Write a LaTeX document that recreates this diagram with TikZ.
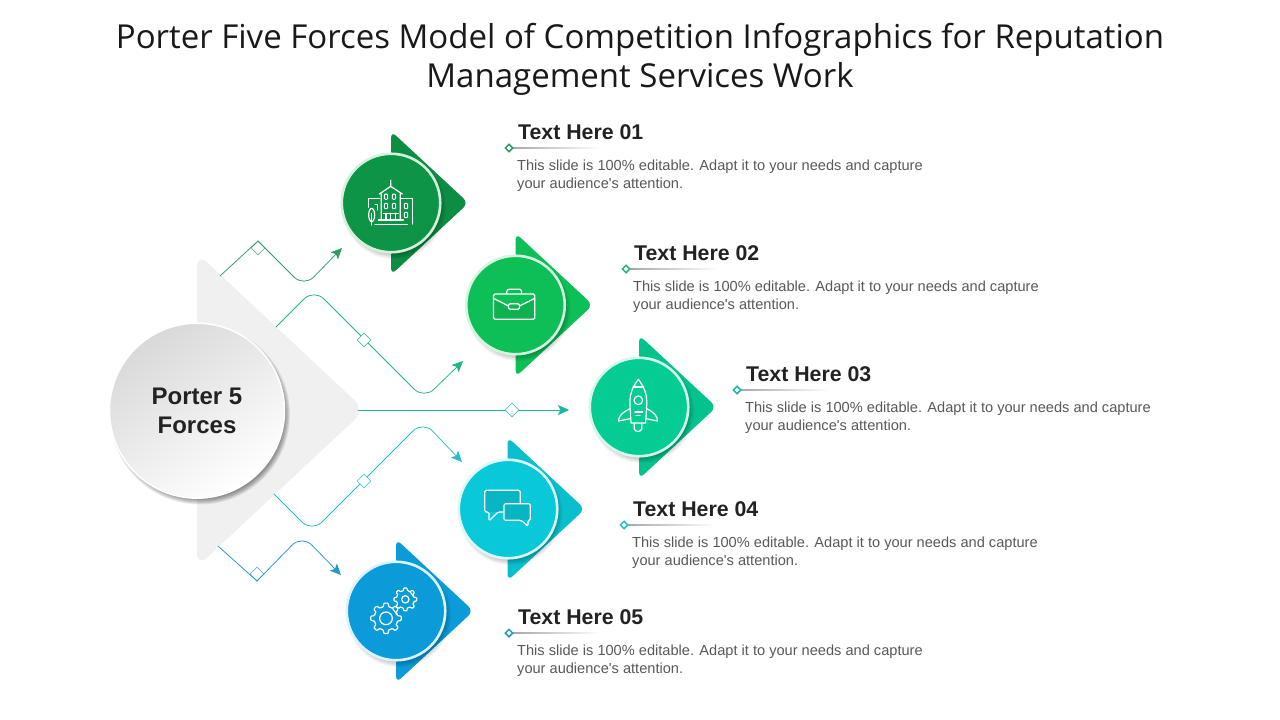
\documentclass[tikz,border=0pt]{standalone}
\usepackage{fontspec}
\setmainfont{Liberation Sans}
\newfontfamily\bodyfont{Liberation Sans}
\newfontfamily\titlefont{Open Sans}
\usetikzlibrary{arrows.meta,shapes.geometric,calc}
\definecolor{cA}{HTML}{0E9447}\definecolor{cB}{HTML}{0DBF56}\definecolor{cC}{HTML}{04CC93}\definecolor{cD}{HTML}{09C9D8}\definecolor{cE}{HTML}{0A9BD8}
\definecolor{rA}{HTML}{D5F0DC}\definecolor{rB}{HTML}{D5F5E0}\definecolor{rC}{HTML}{D5F7EC}\definecolor{rD}{HTML}{DDF8FA}\definecolor{rE}{HTML}{DDF3FB}
\definecolor{lA}{HTML}{2E9A68}\definecolor{lB}{HTML}{22B57C}\definecolor{lC}{HTML}{17B8A0}\definecolor{lD}{HTML}{25BFC4}\definecolor{lE}{HTML}{2198C0}
\definecolor{body}{HTML}{595959}\definecolor{ink}{HTML}{222222}
\tikzset{
 x=1pt,y=-1pt,
 disc/.style={circle,inner sep=0pt,outer sep=0pt,minimum size=98.5pt,line width=2.6pt},
 conn/.style={line width=.75pt,rounded corners=14pt,-{Stealth[length=11pt,width=10pt,inset=2.5pt]}},
 waydia/.style={diamond,draw=#1,fill=white,line width=.7pt,inner sep=0pt,minimum size=14pt},
 mark dia/.style={diamond,draw=#1,fill=white,line width=1.5pt,inner sep=0pt,minimum size=8pt},
 headtxt/.style={anchor=west,inner sep=0pt,text=ink,font=\bfseries\fontsize{21.3}{24}\selectfont},
 bodytxt/.style={anchor=north west,inner sep=0pt,align=left,text=body,font=\bodyfont\fontsize{14.6}{18}\selectfont},
 ic/.style={draw=white,line width=1.2pt,line cap=round,line join=round},
 icthin/.style={draw=white,line width=1pt,line cap=round,line join=round},
}
\newcommand{\softshadow}[5]{% x y r steps opacity
 \foreach \k in {0,...,#4}{\fill[black,opacity=#5] (#1,#2) circle[radius=#3-\k+2];}}
\newcommand{\triback}[3]{% cx cy colour
 \fill[#3,rounded corners=7pt] (#1,#2) -- (#1,#2-72) -- (#1+77.5,#2) -- (#1,#2+72) -- cycle;}
\newcommand{\gearshape}[3]{% x y r
 \draw[ic,rounded corners=.7pt] \foreach \a in {0,45,...,315}{
   ($(#1,#2)+(\a-13:#3)$) -- ($(#1,#2)+(\a-8:#3*1.28)$) -- ($(#1,#2)+(\a+8:#3*1.28)$) -- ($(#1,#2)+(\a+13:#3)$) -- ($(#1,#2)+(\a+32:#3)$)
 } -- cycle;}
\begin{document}
\begin{tikzpicture}
\useasboundingbox (0,0) rectangle (1280,720);
\fill[white] (0,0) rectangle (1280,720);
% title
\node[align=center,inner sep=0pt,text=black!90,font=\titlefont\fontsize{33}{39}\selectfont] (title) at (640,59) {Porter Five Forces Model of Competition Infographics for Reputation\\Management Services Work};
% main triangle
\fill[black!6,rounded corners=14pt] (197,410) -- (197,253) -- (365,410) -- (197,567) -- cycle;
% back triangles
\triback{391}{203}{cA!95!black}
\triback{515.5}{305}{cB}
\triback{639}{407}{cC!95!black}
\triback{507.5}{509}{cD!95!black}
\triback{396}{611}{cE}
% shadows
\softshadow{394}{207}{50}{6}{.04}
\softshadow{518.5}{309}{50}{6}{.04}
\softshadow{642}{411}{50}{6}{.04}
\softshadow{510.5}{513}{50}{6}{.04}
\softshadow{399}{615}{50}{6}{.04}
\softshadow{200}{414.5}{88}{6}{.08}
% discs
\node[disc,fill=cA,draw=rA] (c1) at (391,203) {};
\node[disc,fill=cB,draw=rB] (c2) at (515.5,305) {};
\node[disc,fill=cC,draw=rC] (c3) at (639,407) {};
\node[disc,fill=cD,draw=rD] (c4) at (508,509) {};
\node[disc,fill=cE,draw=rE] (c5) at (396,611) {};
\node[circle,inner sep=0pt,outer sep=0pt,minimum size=175pt,line width=1.5pt,draw=white,shading=axis,top color=black!15,bottom color=white,shading angle=35,align=center,text=ink,font=\bfseries\fontsize{24}{29}\selectfont] (hub) at (197,410.7) {Porter 5\\Forces};
% connector way points
\coordinate (s1) at (220,276); \coordinate (a1) at (258,241); \coordinate (b1) at (304,287); \coordinate (t1) at (342,248);
\coordinate (s2) at (276,327); \coordinate (a2) at (314,289); \coordinate (b2) at (424,399); \coordinate (t2) at (463,361);
\coordinate (s3) at (358,410); \coordinate (t3) at (569,410);
\coordinate (s4) at (274,494); \coordinate (a4) at (312,532); \coordinate (b4) at (423,421); \coordinate (t4) at (462,462);
\coordinate (s5) at (218,546); \coordinate (a5) at (257,581); \coordinate (b5) at (302,535); \coordinate (t5) at (341,575);
% way diamonds beneath lines' ends
\node[waydia=lA!70] (d1) at (258,248) {};
\node[waydia=lE!70] (d5) at (257,574) {};
\draw[conn,lA] (s1) [sharp corners] -- (a1) [rounded corners=14pt] -- (b1) -- (t1);
\draw[conn,lB] (s2) -- (a2) -- (b2) -- (t2);
\draw[conn,lC] (s3) -- (t3);
\draw[conn,lD] (s4) -- (a4) -- (b4) -- (t4);
\draw[conn,lE] (s5) [sharp corners] -- (a5) [rounded corners=14pt] -- (b5) -- (t5);
\node[waydia=lB!80] (d2) at (364,340) {};
\node[waydia=lC!80] (d3) at (512,410) {};
\node[waydia=lD!80] (d4) at (364,481) {};
% icons ---------------------------------------------------
% building
\begin{scope}[shift={(391,203)},scale=.3333]
 \begin{scope}[shift={(-213,-249)}]
 \draw[ic] (212,181) -- (212,197) (178,222) -- (212,199) -- (247,222) (184,222)--(184,300) (241,222)--(241,300);
 \draw[ic] (145,262) -- (145,235) -- (178,235) (243,235) -- (278,235) -- (278,312);
 \draw[ic] (155,285) ellipse[x radius=9,y radius=20]; \draw[ic] (155,280) -- (155,315);
 \draw[ic] (165,313) -- (262,313) (175,300) -- (250,300) (190,280) -- (235,280) (198,280) -- (198,300) (212,280) -- (212,300) (226,280) -- (226,300);
 \foreach \u/\v in {198/230,222/230,198/258,222/258,258/258,258/285}{\draw[icthin,rounded corners=1pt] (\u-5,\v-8) rectangle (\u+5,\v+8);}
 \draw[icthin] (165,252) -- (172,252) -- (172,270);
 \end{scope}
\end{scope}
% briefcase
\begin{scope}[shift={(515.5,305)},scale=.3333]
 \begin{scope}[shift={(-196,-225)}]
 \fill[black,opacity=.06] (131,205) -- (175,228) -- (208,228) -- (254,205) -- (254,268) -- (131,268) -- cycle;
 \draw[ic,rounded corners=1.5pt] (130,192) rectangle (254,268);
 \draw[ic,rounded corners=2pt] (170,192) -- (170,178) -- (214,178) -- (214,192);
 \draw[ic] (130,205) -- (175,228) (208,228) -- (254,205);
 \draw[ic,rounded corners=2pt] (175,221) rectangle (208,238);
 \end{scope}
\end{scope}
% rocket
\begin{scope}[shift={(639,407)},scale=.3333]
 \begin{scope}[shift={(-567,-530)}]
 \draw[ic] (565,447) .. controls (548,470) and (538,490) .. (540,525) -- (543,578) -- (587,578) -- (590,525) .. controls (592,490) and (582,470) .. (565,447) -- cycle;
 \draw[ic] (549,470) -- (581,470);
 \draw[ic] (565,510) circle[radius=13];
 \draw[ic] (555,545) -- (578,545) (558,555) -- (570,555);
 \draw[ic] (553,580) -- (553,596) .. controls (556,606) and (572,606) .. (575,596) -- (575,580);
 \draw[ic] (540,535) .. controls (520,545) and (506,555) .. (505,572) -- (541,565);
 \draw[ic] (590,535) .. controls (610,545) and (622,555) .. (623,572) -- (588,565);
 \end{scope}
\end{scope}
% chat
\begin{scope}[shift={(508,509)},scale=.3333]
 \begin{scope}[shift={(-535,-206)}]
 \fill[black!10!cD] (465,150) rectangle (572,215);
 \draw[ic,rounded corners=1.5pt] (523,215) -- (505,215) -- (478,242) -- (478,215) -- (465,215) -- (465,150) -- (572,150) -- (572,190);
 \fill[black!10!cD] (523,190) rectangle (602,240);
 \draw[ic,rounded corners=1.5pt] (523,190) -- (602,190) -- (602,240) -- (595,240) -- (595,258) -- (575,240) -- (523,240) -- cycle;
 \end{scope}
\end{scope}
% gears
\begin{scope}[shift={(396,611)},scale=.3333]
 \begin{scope}[shift={(-200,-513)}]
 \gearshape{170}{535}{36}
 \draw[ic] (170,535) circle[radius=19];
 \gearshape{228}{478}{27}
 \draw[ic] (228,478) circle[radius=11];
 \end{scope}
\end{scope}
% texts ---------------------------------------------------
\foreach \n/\hx/\hy/\mx/\bx/\col in {01/518/132/509/517/lA,02/634/253/626/633/lB,03/746/374/737/745/lC,04/633/509/624/632/lD,05/518/617/509/517/lE}{
 \node[headtxt] (h\n) at (\hx,\hy) {Text Here \n};
 \fill[left color=black!35,right color=white] (\mx+3,\hy+16-.4) rectangle (\mx+92,\hy+16+.4);
 \node[mark dia=\col] (m\n) at (\mx,\hy+16) {};
 \node[bodytxt] (b\n) at (\bx,\hy+27.8) {This slide is 100\% editable. Adapt it to your needs and capture\\your audience's attention.};
}
\end{tikzpicture}
\end{document}
